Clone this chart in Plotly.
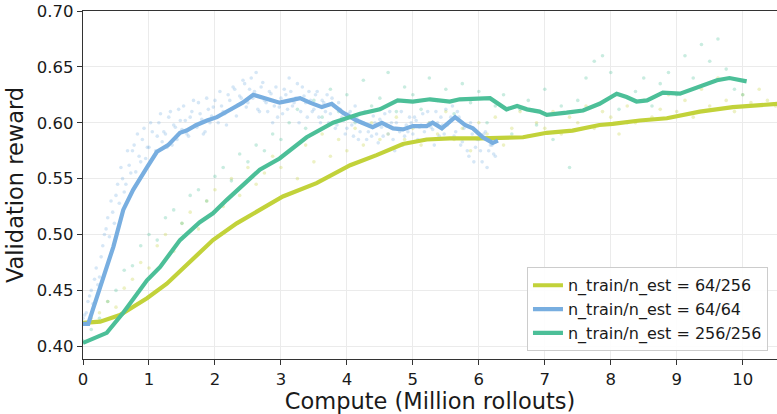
import numpy as np
import plotly.graph_objects as go

# ---- smoothed curves -------------------------------------------------------
yellow_x = [0, 0.26, 0.56, 0.97, 1.27, 1.62, 1.97, 2.33, 2.68, 3.03, 3.54, 4.05, 4.45, 4.85,
            5.21, 5.56, 6.02, 6.67, 7.03, 7.42, 7.83, 8.03, 8.44, 8.85, 9.35, 9.85, 10.55]
yellow_y = [0.421, 0.422, 0.428, 0.443, 0.456, 0.475, 0.495, 0.510, 0.522, 0.534, 0.546, 0.562,
            0.571, 0.581, 0.585, 0.586, 0.586, 0.587, 0.591, 0.593, 0.598, 0.599, 0.602, 0.604,
            0.610, 0.614, 0.617]

blue_x = [0, 0.08, 0.15, 0.24, 0.33, 0.46, 0.61, 0.76, 0.97, 1.12, 1.29, 1.47, 1.57, 1.72, 1.88,
          2.03, 2.27, 2.42, 2.58, 2.68, 2.83, 2.98, 3.14, 3.29, 3.44, 3.62, 3.77, 3.94, 4.15,
          4.39, 4.53, 4.70, 4.85, 5.0, 5.21, 5.30, 5.44, 5.64, 5.79, 5.91, 6.06, 6.21, 6.29]
blue_y = [0.420, 0.420, 0.433, 0.449, 0.465, 0.489, 0.522, 0.540, 0.560, 0.574, 0.580, 0.591,
          0.593, 0.598, 0.602, 0.605, 0.613, 0.618, 0.625, 0.623, 0.620, 0.618, 0.620, 0.622,
          0.618, 0.614, 0.617, 0.609, 0.602, 0.596, 0.600, 0.595, 0.594, 0.597, 0.597, 0.600,
          0.595, 0.605, 0.598, 0.595, 0.587, 0.582, 0.584]

green_x = [0, 0.26, 0.36, 0.61, 0.97, 1.17, 1.47, 1.77, 1.97, 2.18, 2.48, 2.68, 2.98, 3.39, 3.79,
           4.2, 4.5, 4.77, 5.0, 5.26, 5.56, 5.71, 6.17, 6.42, 6.58, 6.73, 6.92, 7.03, 7.33, 7.58,
           7.83, 8.09, 8.24, 8.39, 8.55, 8.79, 9.05, 9.30, 9.61, 9.80, 10.06]
green_y = [0.403, 0.409, 0.412, 0.430, 0.459, 0.471, 0.495, 0.511, 0.519, 0.531, 0.547, 0.558,
           0.568, 0.587, 0.600, 0.608, 0.612, 0.620, 0.619, 0.621, 0.619, 0.621, 0.622, 0.612,
           0.615, 0.612, 0.610, 0.607, 0.609, 0.611, 0.617, 0.626, 0.623, 0.619, 0.620, 0.627,
           0.626, 0.631, 0.638, 0.640, 0.637]

# ---- raw evaluation points (regular compute steps) -------------------------
# 64/64 run is evaluated twice as often: two interleaved step grids
blue_raw_step = 0.05
blue_raw_y = [0.425, 0.43, 0.445, 0.438, 0.47, 0.462, 0.49, 0.505, 0.498, 0.52,
              0.535, 0.528, 0.55, 0.545, 0.562, 0.575, 0.556, 0.57, 0.585, 0.568,
              0.578, 0.592, 0.575, 0.6, 0.583, 0.59, 0.605, 0.58, 0.596, 0.612,
              0.594, 0.602, 0.588, 0.61, 0.598, 0.618, 0.603, 0.592, 0.612, 0.606,
              0.62, 0.6, 0.615, 0.608, 0.625, 0.612, 0.63, 0.616, 0.622, 0.635,
              0.618, 0.64, 0.628, 0.612, 0.632, 0.62, 0.61, 0.626, 0.615, 0.605,
              0.622, 0.63, 0.612, 0.628, 0.618, 0.635, 0.61, 0.624, 0.605, 0.62,
              0.612, 0.628, 0.6, 0.618, 0.625, 0.608, 0.615, 0.598, 0.612, 0.602,
              0.595, 0.61, 0.588, 0.604, 0.592, 0.6, 0.585, 0.598, 0.606, 0.59,
              0.603, 0.588, 0.597, 0.61, 0.585, 0.6, 0.592, 0.58, 0.598, 0.605,
              0.59, 0.602, 0.596, 0.608, 0.585, 0.6, 0.594, 0.61, 0.588, 0.598,
              0.612, 0.6, 0.615, 0.592, 0.605, 0.583, 0.598, 0.57, 0.59, 0.578,
              0.585, 0.565, 0.592, 0.575, 0.58, 0.57]
blue_raw_y2 = [0.428, 0.44, 0.45, 0.46, 0.455, 0.48, 0.5, 0.515, 0.53, 0.51,
               0.545, 0.56, 0.538, 0.575, 0.555, 0.58, 0.59, 0.565, 0.595, 0.578,
               0.6, 0.57, 0.588, 0.608, 0.592, 0.578, 0.61, 0.598, 0.585, 0.602,
               0.615, 0.59, 0.605, 0.62, 0.596, 0.608, 0.59, 0.622, 0.6, 0.614,
               0.605, 0.628, 0.61, 0.598, 0.62, 0.632, 0.606, 0.624, 0.638, 0.614,
               0.63, 0.622, 0.645, 0.61, 0.636, 0.618, 0.628, 0.6, 0.632, 0.614,
               0.608, 0.625, 0.64, 0.615, 0.622, 0.6, 0.632, 0.618, 0.628, 0.61,
               0.625, 0.605, 0.62, 0.61, 0.6, 0.622, 0.595, 0.618, 0.605, 0.59,
               0.608, 0.598, 0.615, 0.585, 0.6, 0.61, 0.592, 0.588, 0.6, 0.582,
               0.596, 0.608, 0.59, 0.6, 0.575, 0.594, 0.61, 0.588, 0.592, 0.6,
               0.605, 0.585, 0.598, 0.592, 0.61, 0.596, 0.58, 0.6, 0.605, 0.59,
               0.598, 0.605, 0.588, 0.61, 0.58, 0.595, 0.575, 0.6, 0.565, 0.585,
               0.575, 0.59, 0.56, 0.58, 0.572]

green_raw_step = 0.125
green_raw_y = [0.405, 0.415, 0.425, 0.44, 0.45, 0.468, 0.472, 0.49,
               0.5, 0.495, 0.515, 0.522, 0.51, 0.535, 0.54, 0.53,
               0.552, 0.56, 0.548, 0.572, 0.565, 0.58, 0.575, 0.59,
               0.585, 0.6, 0.612, 0.595, 0.62, 0.605, 0.63, 0.61,
               0.625, 0.6, 0.638, 0.615, 0.622, 0.645, 0.61, 0.632,
               0.625, 0.612, 0.64, 0.62, 0.63, 0.608, 0.635, 0.618,
               0.628, 0.6, 0.615, 0.625, 0.59, 0.612, 0.62, 0.598,
               0.63, 0.585, 0.615, 0.56, 0.62, 0.64, 0.655, 0.66,
               0.645, 0.612, 0.6, 0.628, 0.64, 0.615, 0.635, 0.645,
               0.625, 0.66, 0.64, 0.67, 0.655, 0.675, 0.648, 0.63,
               0.625]

yellow_raw_step = 0.125
yellow_raw_y = [0.42, 0.425, 0.43, 0.44, 0.435, 0.452, 0.46, 0.475,
                0.47, 0.49, 0.5, 0.485, 0.51, 0.52, 0.505, 0.53,
                0.54, 0.525, 0.55, 0.535, 0.56, 0.545, 0.555, 0.57,
                0.56, 0.575, 0.55, 0.58, 0.565, 0.59, 0.57, 0.585,
                0.575, 0.595, 0.58, 0.6, 0.585, 0.59, 0.605, 0.585,
                0.595, 0.58, 0.6, 0.59, 0.61, 0.585, 0.595, 0.575,
                0.6, 0.59, 0.605, 0.58, 0.595, 0.61, 0.588, 0.6,
                0.595, 0.61, 0.59, 0.605, 0.6, 0.615, 0.595, 0.61,
                0.605, 0.59, 0.615, 0.6, 0.62, 0.605, 0.612, 0.625,
                0.61, 0.62, 0.605, 0.63, 0.615, 0.64, 0.62, 0.61,
                0.625, 0.618, 0.63, 0.62, 0.615]

YELLOW, BLUE, GREEN = "#c2d23a", "#78aee0", "#4cbf98"

raw_sets = [
    (YELLOW, np.arange(len(yellow_raw_y)) * yellow_raw_step, yellow_raw_y),
    (BLUE, np.arange(len(blue_raw_y)) * blue_raw_step, blue_raw_y),
    (BLUE, np.arange(len(blue_raw_y2)) * blue_raw_step + blue_raw_step / 2, blue_raw_y2),
    (GREEN, np.arange(len(green_raw_y)) * green_raw_step, green_raw_y),
]

curves = [
    ("n_train/n_est = 64/256", YELLOW, yellow_x, yellow_y),
    ("n_train/n_est = 64/64", BLUE, blue_x, blue_y),
    ("n_train/n_est = 256/256", GREEN, green_x, green_y),
]

FONT = "DejaVu Sans"
fig = go.Figure()

# faint raw points first, underneath every curve
for color, rx, ry in raw_sets:
    fig.add_trace(go.Scatter(
        x=rx, y=ry, mode="markers", showlegend=False, hoverinfo="skip",
        marker=dict(size=3.6, color=color, opacity=0.3, line=dict(width=0)),
    ))

for i, (name, color, lx, ly) in enumerate(curves):
    fig.add_trace(go.Scatter(
        x=lx, y=ly, mode="lines", name=name, legendgroup=f"g{i}",
        line=dict(color=color, width=4.2),
    ))

axis_common = dict(
    showline=True, linecolor="#333333", linewidth=1.3, mirror=True,
    ticks="outside", ticklen=5, tickwidth=1.2, tickcolor="#333333",
    showgrid=True, gridcolor="#ebebeb", gridwidth=1, zeroline=False,
    tickfont=dict(family=FONT, size=16.5, color="#1a1a1a"),
)

fig.update_layout(
    width=777, height=414,
    margin=dict(l=83, r=0, t=11, b=55),
    paper_bgcolor="white", plot_bgcolor="white",
    font=dict(family=FONT, color="#1a1a1a"),
    xaxis=dict(
        range=[0, 10.52], tick0=0, dtick=1,
        title=dict(text="Compute (Million rollouts)", font=dict(family=FONT, size=22.5), standoff=2),
        **axis_common,
    ),
    yaxis=dict(
        range=[0.3886, 0.70], tick0=0.40, dtick=0.05, tickformat=".2f",
        title=dict(text="Validation reward", font=dict(family=FONT, size=22.5), standoff=6),
        **axis_common,
    ),
    legend=dict(
        x=0.987, y=0.022, xanchor="right", yanchor="bottom",
        bgcolor="rgba(255,255,255,0.9)", bordercolor="#cccccc", borderwidth=1,
        font=dict(family=FONT, size=16, color="#1a1a1a"),
        traceorder="grouped", tracegroupgap=0,
    ),
)

fig.write_html("out.html")
